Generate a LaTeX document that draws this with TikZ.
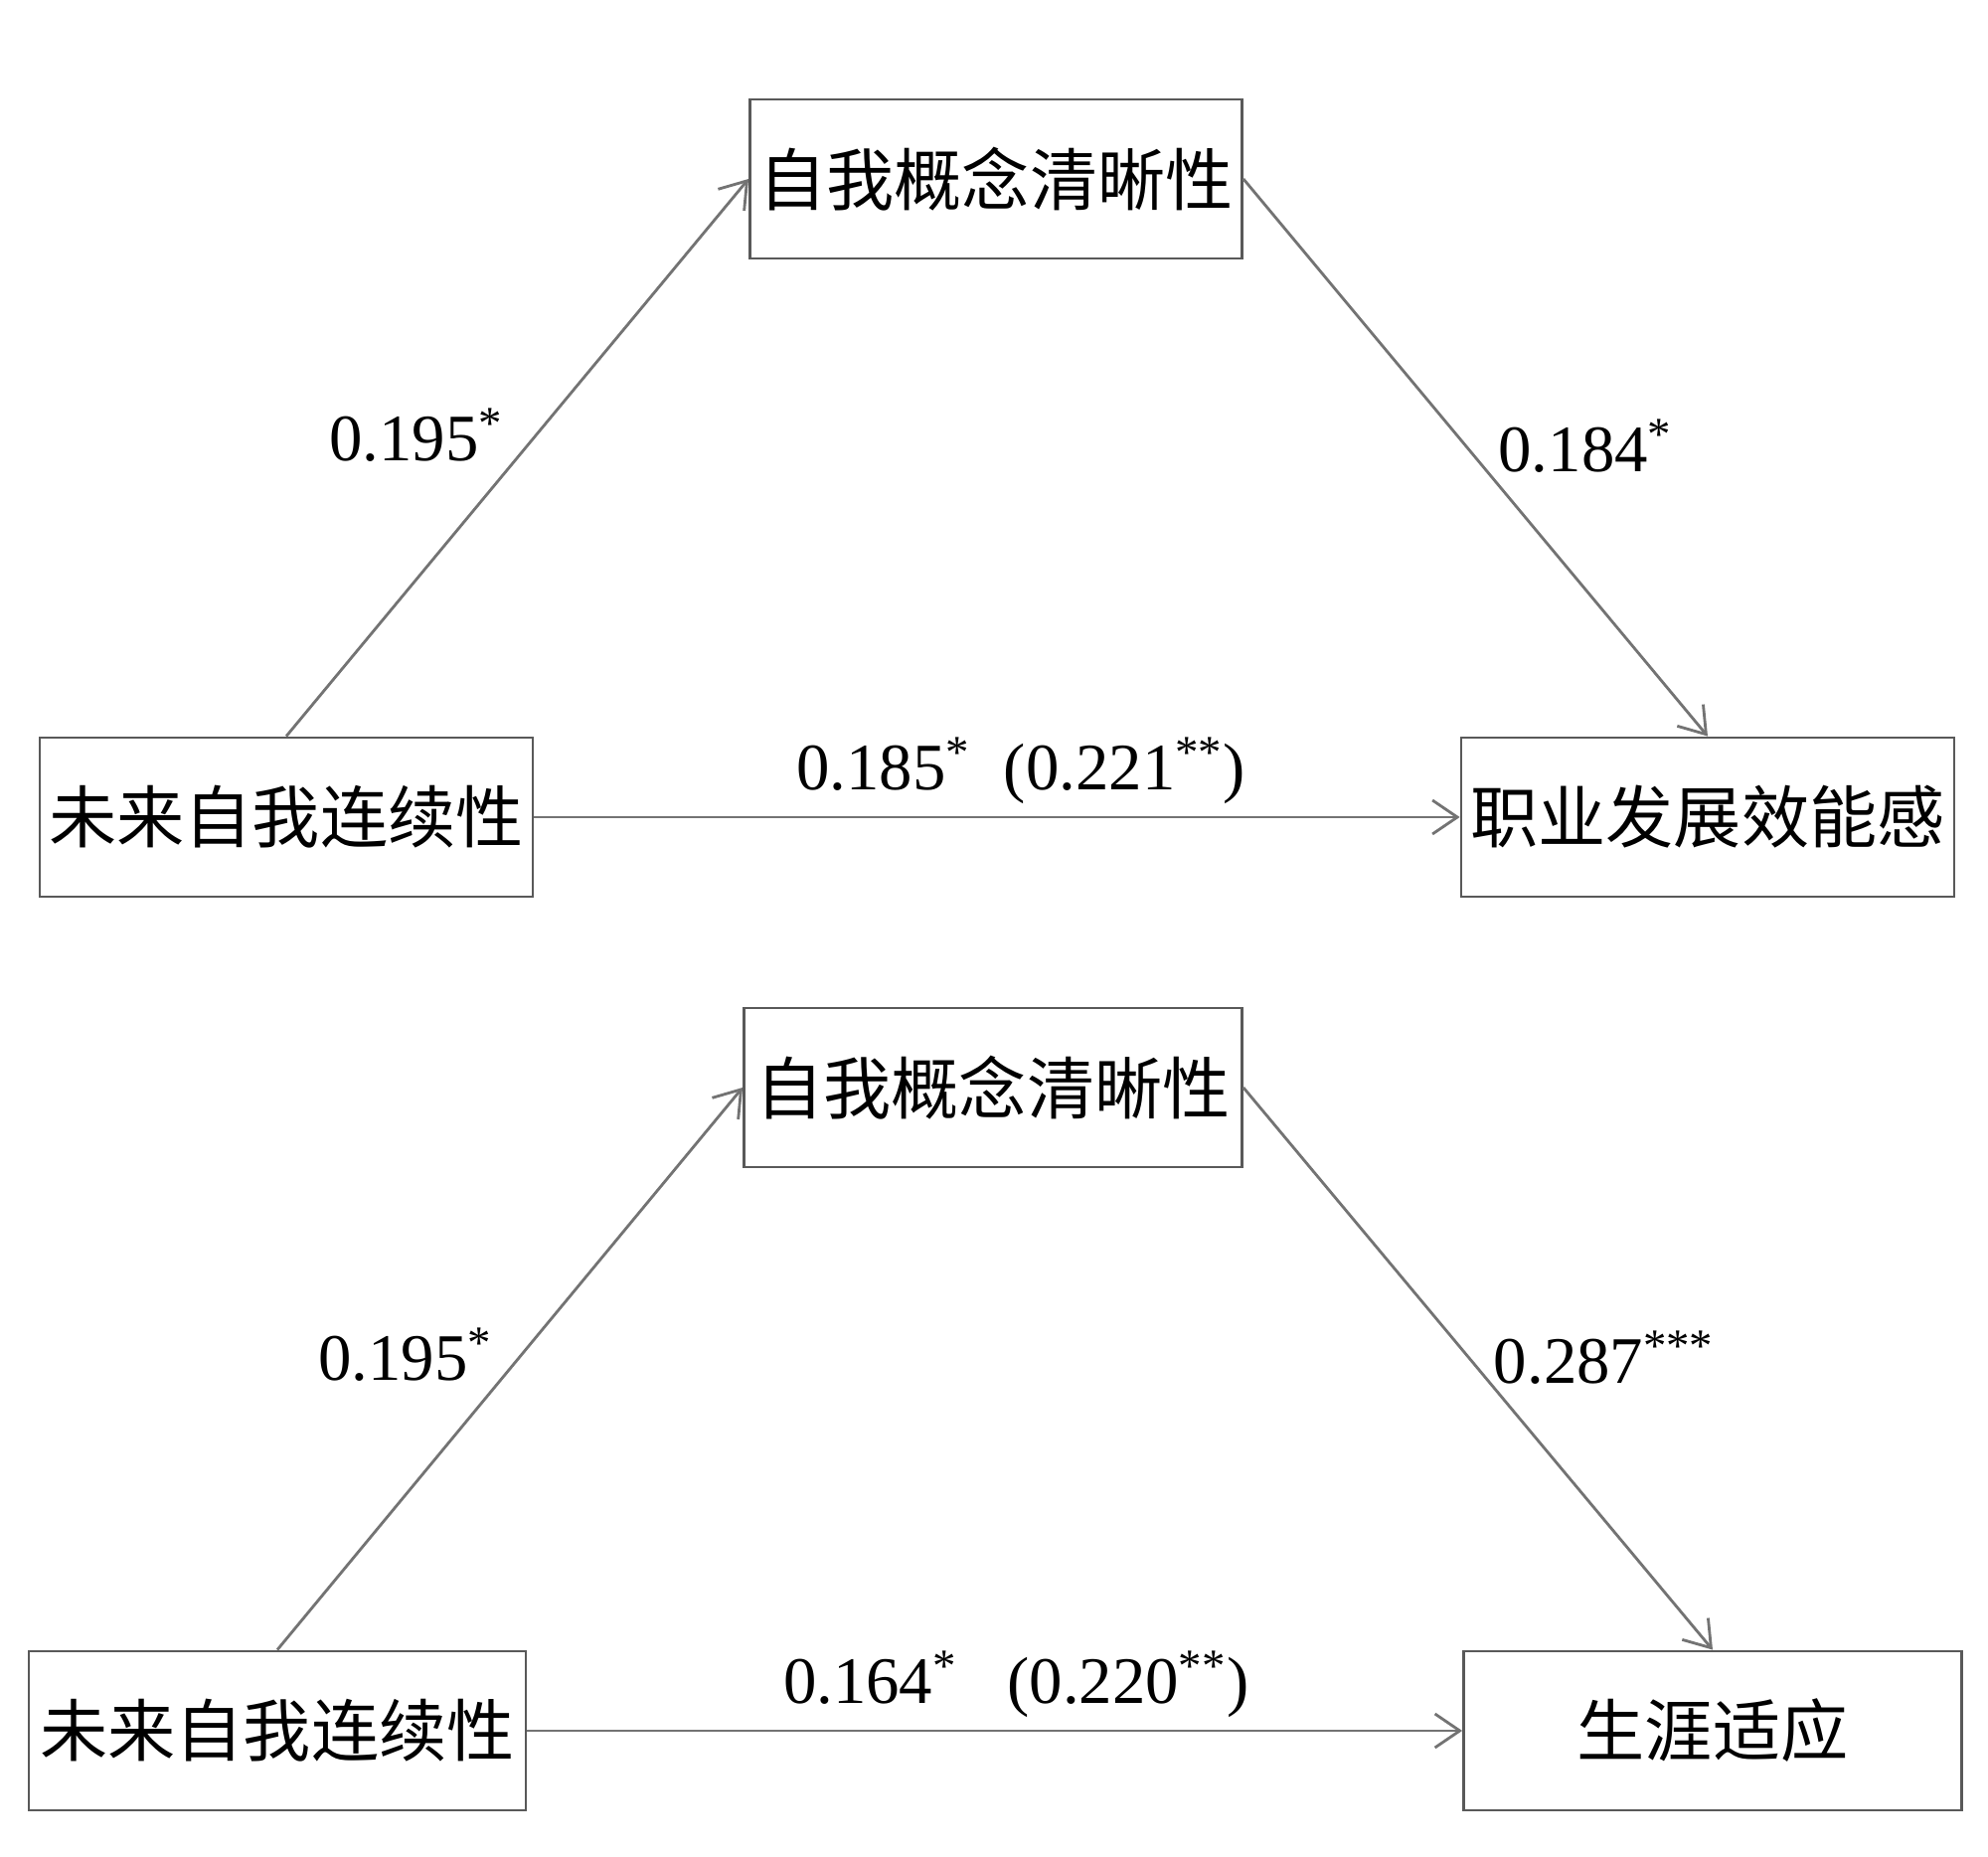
\documentclass[tikz,border=0pt]{standalone}
\usepackage{fontspec}
\setmainfont{Liberation Serif}
\newfontfamily\cjk{Noto Sans CJK SC}
\usetikzlibrary{arrows.meta,positioning}

\begin{document}
\begin{tikzpicture}[
  var/.style={rectangle,draw=black!65,line width=0.8pt,inner xsep=1pt,minimum height=1.6cm,font=\cjk\fontsize{19.4}{23}\selectfont},
  link/.style={draw=black!55,line width=0.8pt,-{Straight Barb[length=2.5mm,width=3.4mm]}},
  coef/.style={font=\fontsize{19}{23}\selectfont}]

  \useasboundingbox (0,0) rectangle (20,18.67);

  % model 1
  \node (fsc1) [var,minimum width=4.96cm] at (2.88,10.45) {未来自我连续性};
  \node (scc1) [var,minimum width=4.95cm] at (10.02,16.87) {自我概念清晰性};
  \node (cdse) [var,minimum width=4.96cm] at (17.18,10.45) {职业发展效能感};

  \draw[link] (fsc1.north) -- node[coef,left,pos=.54,xshift=-5.5pt] {0.195\textsuperscript{*}} (scc1.west);
  \draw[link] (scc1.east) -- node[coef,right,pos=.48,xshift=5.5pt] {0.184\textsuperscript{*}} (cdse.north);
  \draw[link] (fsc1.east) -- node[coef,above,pos=.526] {0.185\textsuperscript{*}~~(0.221\textsuperscript{**})} (cdse.west);

  % model 2
  \node (fsc2) [var,minimum width=5.0cm] at (2.79,1.26) {未来自我连续性};
  \node (scc2) [var,minimum width=5.01cm] at (9.99,7.73) {自我概念清晰性};
  \node (ca) [var,minimum width=5.01cm] at (17.23,1.26) {生涯适应};

  \draw[link] (fsc2.north) -- node[coef,left,pos=.525,xshift=-4.5pt] {0.195\textsuperscript{*}} (scc2.west);
  \draw[link] (scc2.east) -- node[coef,right,pos=.48,xshift=3.5pt] {0.287\textsuperscript{***}} (ca.north);
  \draw[link] (fsc2.east) -- node[coef,above,pos=.523] {0.164\textsuperscript{*}~~~(0.220\textsuperscript{**})} (ca.west);

\end{tikzpicture}
\end{document}
